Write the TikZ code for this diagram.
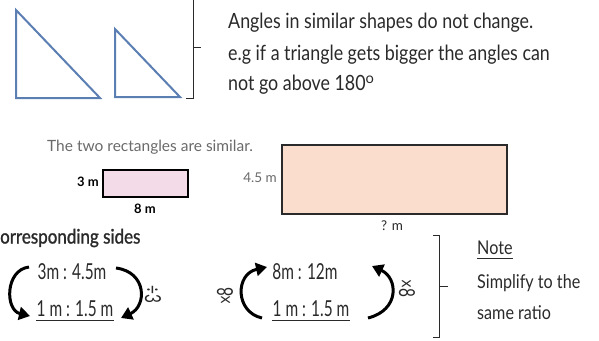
\documentclass[tikz,border=0pt]{standalone}
\usepackage{fontspec}
\setmainfont{Lato}
\newfontfamily\handA{Lato}[FakeStretch=0.85]
\newfontfamily\handB{Lato}[FakeStretch=0.7]
\newfontfamily\handC{Lato}[FakeStretch=0.85,FakeBold=1.2]
\usetikzlibrary{arrows.meta}
\definecolor{triblue}{HTML}{5B7EB3}
\definecolor{pinkfill}{HTML}{F3DCE8}
\definecolor{peach}{HTML}{FADDCC}
\definecolor{ink}{HTML}{2A2A2A}
\definecolor{graytxt}{HTML}{6A6A6A}
\tikzset{
  tri/.style={draw=triblue, line width=2pt, line join=miter},
  brk/.style={draw=ink, line width=1pt},
  hw/.style={font=\handA\fontsize{21}{24}\selectfont, text=ink, inner sep=0pt},
  hwn/.style={font=\handA\fontsize{19}{22}\selectfont, text=ink, inner sep=0pt},
  hwr/.style={font=\handB\fontsize{22}{25}\selectfont, text=ink, inner sep=0pt},
  hwb/.style={font=\handC\fontsize{20}{23}\selectfont, text=ink, inner sep=0pt},
  printed/.style={font=\fontsize{15.5}{18}\selectfont, text=graytxt, inner sep=0pt},
  rectlab/.style={font=\fontsize{13.5}{16}\selectfont, inner sep=0pt},
  arr/.style={draw=black, line width=3pt, -{Triangle[length=11pt,width=13pt]}},
  uline/.style={draw=ink, line width=1.3pt},
}
\begin{document}
\begin{tikzpicture}[x=1pt,y=-1pt]
\useasboundingbox (0,0) rectangle (599,340);
% triangles
\draw[tri] (16,10) -- (16,98) -- (100,98) -- cycle;
\draw[tri] (115,29) -- (115,97) -- (180,97) -- cycle;
% top bracket
\coordinate (b1t) at (193,-2);
\coordinate (b1b) at (193,98);
\coordinate (b1h) at (186,98);
\coordinate (b1m) at (193,47);
\coordinate (b1r) at (201,47);
\draw[brk] (b1t) -- (b1b) -- (b1h);
\draw[brk] (b1m) -- (b1r);
% angle text
\node[hw, anchor=west] (t1) at (228,23) {Angles in similar shapes do not change.};
\node[hw, anchor=west] (t2) at (228,55) {e.g if a triangle gets bigger the angles can};
\node[hw, anchor=west] (t3) at (228,85) {not go above 180$^{\mathrm{o}}$};
% rectangles
\node[printed, anchor=west] (sim) at (47,147) {The two rectangles are similar.};
\node[draw=black, line width=1.5pt, fill=pinkfill, minimum width=85pt, minimum height=27pt, inner sep=0pt] (r1) at (145.5,183.5) {};
\node[rectlab, anchor=east, font=\bfseries\fontsize{13}{15}\selectfont] (l3) at (99,182) {3 m};
\node[rectlab, font=\bfseries\fontsize{13}{15}\selectfont] (l8) at (145,209) {8 m};
\node[draw=ink, line width=1.5pt, fill=peach, minimum width=225pt, minimum height=69pt, inner sep=0pt] (r2) at (394.5,179.5) {};
\node[rectlab, text=graytxt, anchor=east] (l45) at (277,178) {4.5 m};
\node[rectlab, text=ink] (lq) at (392,226) {? m};
% corresponding sides
\node[hwb, anchor=west] (cs) at (0,238) {orresponding sides};
% ratio group 1
\node[hwr] (a1) at (72,272) {3m : 4.5m};
\node[hwr] (a2) at (75,309) {1 m : 1.5 m};
\draw[uline] ([yshift=-3pt]a2.south west) -- ([yshift=-3pt]a2.south east);
\coordinate (p1s) at (29,267);
\coordinate (p1e) at (30,316);
\coordinate (p2s) at (116,268);
\coordinate (p2e) at (121,318);
\draw[arr] (p1s) .. controls (5,270) and (5,310) .. (p1e);
\draw[arr] (p2s) .. controls (147,272) and (147,306) .. (p2e);
\node[hwr, rotate=-90] (d3) at (153,294) {÷3};
% ratio group 2
\node[hwr] (c1) at (305,272) {8m : 12m};
\node[hwr] (c2) at (311,309) {1 m : 1.5 m};
\draw[uline] ([yshift=-3pt]c2.south west) -- ([yshift=-3pt]c2.south east);
\coordinate (q1s) at (262,318);
\coordinate (q1e) at (267,267);
\coordinate (q2s) at (368,318);
\coordinate (q2e) at (372,266);
\draw[arr] (q1s) .. controls (235,312) and (235,274) .. (q1e);
\draw[arr] (q2s) .. controls (400,310) and (398,278) .. (q2e);
\node[hwr, rotate=90] (m8a) at (225,296) {×8};
\node[hwr, rotate=-90] (m8b) at (407,288) {×8};
% note bracket
\coordinate (b2t) at (433,235);
\coordinate (b2tr) at (439,235);
\coordinate (b2br) at (439,337);
\coordinate (b2b) at (433,337);
\coordinate (b2m) at (439,286);
\coordinate (b2r) at (448,286);
\draw[brk] (b2t) -- (b2tr) -- (b2br) -- (b2b);
\draw[brk] (b2m) -- (b2r);
\node[hwn, anchor=west] (note) at (477,248) {Note};
\draw[uline, line width=0.9pt] ([yshift=-3pt]note.south west) -- ([yshift=-3pt]note.south east);
\node[hwn, anchor=west] (n1) at (477,283) {Simplify to the};
\node[hwn, anchor=west] (n2) at (477,313) {same ratio};
\end{tikzpicture}
\end{document}
